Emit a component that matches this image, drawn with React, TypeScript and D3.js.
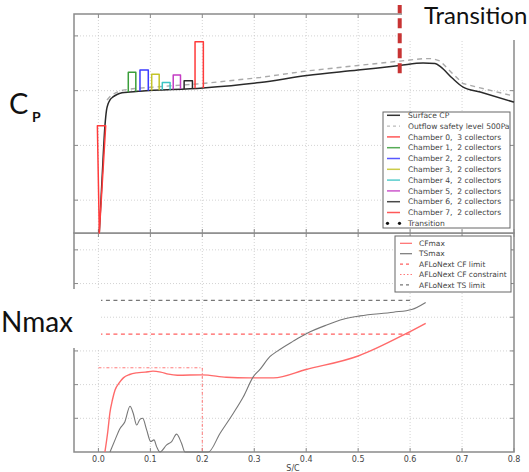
import React from "react";
import * as d3 from "d3";

// ---------- data ----------
const xTicks = [0, 0.1, 0.2, 0.3, 0.4, 0.5, 0.6, 0.7, 0.8];
const xTickLabels = ["0.0", "0.1", "0.2", "0.3", "0.4", "0.5", "0.6", "0.7", "0.8"];
const upperGridY = [0.2, 0.4, 0.6, 0.8];
const lowerGridY = [1, 2, 3, 4, 5, 6];

const surfaceX = [0.0017, 0.0069, 0.0127, 0.0156, 0.0185, 0.0223, 0.0281, 0.0358, 0.0454, 0.0608, 0.08, 0.2013, 0.311, 0.4015, 0.4997, 0.58, 0.625, 0.648, 0.6595, 0.681, 0.702, 0.735, 0.8];
const surfaceCp = [0.082, 0.274, 0.475, 0.529, 0.551, 0.566, 0.577, 0.586, 0.592, 0.595, 0.598, 0.61, 0.63, 0.655, 0.675, 0.692, 0.701, 0.699, 0.686, 0.646, 0.613, 0.595, 0.558];

const outflowX = [0.0165, 0.024, 0.034, 0.0473, 0.0704, 0.2013, 0.311, 0.4015, 0.4997, 0.58, 0.625, 0.644, 0.658, 0.681, 0.702, 0.735, 0.8];
const outflowCp = [0.566, 0.582, 0.593, 0.602, 0.608, 0.626, 0.648, 0.672, 0.692, 0.708, 0.717, 0.717, 0.708, 0.664, 0.626, 0.61, 0.58];

const chamberNames = [
  "Chamber 0,  3 collectors",
  "Chamber 1,  2 collectors",
  "Chamber 2,  2 collectors",
  "Chamber 3,  2 collectors",
  "Chamber 4,  2 collectors",
  "Chamber 5,  2 collectors",
  "Chamber 6,  2 collectors",
  "Chamber 7,  2 collectors",
];
const chamberColors = ["#ff3b3b", "#3a9e3a", "#3b3bff", "#c4c42a", "#3cc4c4", "#c43cc4", "#2a2a2a", "#ff3b3b"];
const chamberStart = [-0.002, 0.0575, 0.08, 0.1026, 0.123, 0.144, 0.165, 0.186];
const chamberEnd = [0.014, 0.072, 0.096, 0.117, 0.138, 0.158, 0.181, 0.202];
const chamberTop = [0.472, 0.667, 0.675, 0.66, 0.63, 0.657, 0.636, 0.779];
const chamberTipX = [0.0017, null, null, null, null, null, null, null];

const transitionX = 0.58;
const transitionSpan = [0.664, 0.913];

const cfX = [0.0125, 0.018, 0.022, 0.027, 0.032, 0.04, 0.048, 0.06, 0.074, 0.09, 0.105, 0.12, 0.135, 0.152, 0.2, 0.246, 0.29, 0.311, 0.337, 0.4, 0.5, 0.593, 0.63];
const cfMax = [0, 0.6, 1.15, 1.55, 1.84, 2.05, 2.2, 2.3, 2.35, 2.37, 2.4, 2.37, 2.31, 2.28, 2.29, 2.22, 2.2, 2.2, 2.2, 2.45, 2.85, 3.52, 3.82];

const tsX = [0.0223, 0.032, 0.0416, 0.051, 0.0608, 0.067, 0.0737, 0.08, 0.0852, 0.093, 0.1006, 0.107, 0.112, 0.1185, 0.1314, 0.141, 0.1505, 0.16, 0.1667, 0.2115, 0.234, 0.2597, 0.279, 0.298, 0.311, 0.33, 0.343, 0.375, 0.401, 0.4395, 0.471, 0.5035, 0.568, 0.603, 0.63];
const tsMax = [0, 0.36, 0.7, 0.9, 1.36, 1.15, 0.8, 0.97, 1.0, 0.65, 0.31, 0.36, 0.16, 0, 0.21, 0.31, 0.53, 0.26, 0, 0, 0.55, 1.15, 1.64, 2.23, 2.45, 2.83, 2.98, 3.29, 3.52, 3.77, 3.94, 4.04, 4.15, 4.23, 4.44];

const cfLimit = 3.5;
const tsLimit = 4.5;
const cfConstraint = 2.5;
const limitRange = [0, 0.6];
const constraintRange = [0, 0.2];

const upperLegend = ["Surface CP", "Outflow safety level 500Pa", ...chamberNames, "Transition"];
const lowerLegend = ["CFmax", "TSmax", "AFLoNext CF limit", "AFLoNext CF constraint", "AFLoNext TS limit"];

// ---------- layout ----------
const W = 529, H = 472;
const L = 74, R = 514;
const UT = 14, UB = 233;
const LT = 233, LB = 452;

const x = d3.scaleLinear().domain([-0.047, 0.8]).range([L, R]);
const yU = d3.scaleLinear().domain([0.08, 0.88]).range([UB, UT]);
const yL = d3.scaleLinear().domain([0, 6.5]).range([LB, LT]);
const cpAt = d3.scaleLinear().domain(surfaceX).range(surfaceCp).clamp(true);

const FRAME = "#8a8a8a";
const GRID = "#c8c8c8";
const TXT = "#444";
const FONT = "DejaVu Sans, sans-serif";
const BIG = "Lato, 'Open Sans', sans-serif";

export default function App() {
  const lineU = d3.line<[number, number]>().x((d) => x(d[0])).y((d) => yU(d[1]));
  const lineL = d3.line<[number, number]>().x((d) => x(d[0])).y((d) => yL(d[1]));
  const smoothL = d3.line<[number, number]>().x((d) => x(d[0])).y((d) => yL(d[1])).curve(d3.curveMonotoneX);
  const smoothU = d3.line<[number, number]>().x((d) => x(d[0])).y((d) => yU(d[1])).curve(d3.curveMonotoneX);

  const surf = surfaceX.map((v, i) => [v, surfaceCp[i]] as [number, number]);
  const outf = outflowX.map((v, i) => [v, outflowCp[i]] as [number, number]);
  const cf = cfX.map((v, i) => [v, cfMax[i]] as [number, number]);
  const ts = tsX.map((v, i) => [v, tsMax[i]] as [number, number]);

  const chamberPath = (i: number) => {
    const x0 = chamberStart[i], x1 = chamberEnd[i], top = chamberTop[i];
    const tip = chamberTipX[i];
    const pts: [number, number][] =
      tip != null
        ? [[x0, top], [x1, top], [tip, 0.08]]
        : [[x0, cpAt(x0)], [x0, top], [x1, top], [x1, cpAt(x1)]];
    return lineU(pts) + (tip != null ? "Z" : "");
  };

  const gridX = xTicks.filter((t) => t < 0.8);

  const ticksFrame = (top: number, bottom: number, ys: number[], yScale: any) => (
    <g stroke={FRAME} strokeWidth={1}>
      {xTicks.map((t, i) => (
        <g key={"tx" + i}>
          <line x1={x(t)} x2={x(t)} y1={bottom} y2={bottom - 4} />
          <line x1={x(t)} x2={x(t)} y1={top} y2={top + 4} />
        </g>
      ))}
      {ys.map((t, i) => (
        <g key={"ty" + i}>
          <line x1={L} x2={L + 4} y1={yScale(t)} y2={yScale(t)} />
          <line x1={R} x2={R - 4} y1={yScale(t)} y2={yScale(t)} />
        </g>
      ))}
    </g>
  );

  return (
    <svg width={W} height={H} style={{ position: "absolute", left: 0, top: 0, background: "#fff" }} fontFamily={FONT}>
      <rect x={0} y={0} width={W} height={H} fill="#fff" />

      {/* ---------- lower panel ---------- */}
      <g stroke={GRID} strokeWidth={0.8} strokeDasharray="1,2">
        {gridX.map((t, i) => (
          <line key={"lgx" + i} x1={x(t)} x2={x(t)} y1={LT} y2={LB} />
        ))}
        {lowerGridY.map((t, i) => (
          <line key={"lgy" + i} x1={L} x2={R} y1={yL(t)} y2={yL(t)} />
        ))}
      </g>
      <rect x={L} y={LT} width={R - L} height={LB - LT} fill="none" stroke={FRAME} strokeWidth={1.5} />
      {ticksFrame(LT, LB, lowerGridY, yL)}

      <path d={lineL([[limitRange[0], tsLimit], [limitRange[1], tsLimit]])!} stroke="#777" strokeWidth={1.2} strokeDasharray="4,3.5" fill="none" />
      <path d={lineL([[limitRange[0], cfLimit], [limitRange[1], cfLimit]])!} stroke="#ff6060" strokeWidth={1.2} strokeDasharray="4,3.5" fill="none" />
      <path
        d={lineL([[constraintRange[0], cfConstraint], [constraintRange[1], cfConstraint], [constraintRange[1], 0]])!}
        stroke="#ff7a7a"
        strokeWidth={1}
        strokeDasharray="3,2,1,2"
        fill="none"
      />
      <path d={smoothL(cf)!} stroke="#ff6a6a" strokeWidth={1.4} fill="none" />
      <path d={smoothL(ts)!} stroke="#777" strokeWidth={1.1} fill="none" />

      {xTicks.map((t, i) => (
        <text key={"xl" + i} x={x(t)} y={462} fontSize={8} fill={TXT} textAnchor="middle">
          {xTickLabels[i]}
        </text>
      ))}
      <text x={293} y={471} fontSize={8} fill={TXT} textAnchor="middle">S/C</text>

      {/* Nmax label */}
      <rect x={0} y={289} width={101} height={59} fill="#fff" />
      <text x={1} y={332} fontSize={28} fontFamily={BIG} fill="#111">Nmax</text>

      {/* lower legend */}
      <g>
        <rect x={395} y={236} width={116} height={56} fill="#fff" stroke="#666" strokeWidth={1} />
        {lowerLegend.map((name, i) => {
          const yy = 243.3 + i * 10.4;
          const styles = [
            { c: "#ff6a6a", d: undefined },
            { c: "#777", d: undefined },
            { c: "#ff6060", d: "3,3" },
            { c: "#ff7a7a", d: "1.5,2" },
            { c: "#777", d: "3,3" },
          ][i];
          return (
            <g key={"ll" + i}>
              <line x1={400} x2={412} y1={yy} y2={yy} stroke={styles.c} strokeWidth={1.2} strokeDasharray={styles.d} />
              <text x={419} y={yy + 2.7} fontSize={7.5} fill={TXT}>{name}</text>
            </g>
          );
        })}
      </g>

      {/* ---------- upper panel ---------- */}
      <rect x={L} y={UT} width={R - L} height={UB - UT} fill="#fff" />
      <g stroke={GRID} strokeWidth={0.8} strokeDasharray="1,2">
        {gridX.map((t, i) => (
          <line key={"ugx" + i} x1={x(t)} x2={x(t)} y1={UT} y2={UB} />
        ))}
        {upperGridY.map((t, i) => (
          <line key={"ugy" + i} x1={L} x2={R} y1={yU(t)} y2={yU(t)} />
        ))}
      </g>
      <rect x={L} y={UT} width={R - L} height={UB - UT} fill="none" stroke={FRAME} strokeWidth={1.5} />
      {ticksFrame(UT, UB, upperGridY, yU)}

      <path d={lineU(outf)!} stroke="#aaa" strokeWidth={1.4} strokeDasharray="5,4" fill="none" />
      <path d={smoothU(surf)!} stroke="#2a2a2a" strokeWidth={1.5} fill="none" />
      {chamberNames.map((_, i) => (
        <path key={"ch" + i} d={chamberPath(i)} stroke={chamberColors[i]} strokeWidth={1.5} fill="none" strokeLinejoin="round" />
      ))}
      <circle cx={x(transitionX)} cy={yU(cpAt(transitionX))} r={1.5} fill="#111" />

      {/* upper legend */}
      <g>
        <rect x={383} y={112} width={127} height={116} fill="#fff" stroke="#666" strokeWidth={1} />
        {upperLegend.map((name, i) => {
          const yy = 115.3 + i * 10.8;
          let mark;
          if (i === 0) mark = <line x1={387} x2={400} y1={yy} y2={yy} stroke="#333" strokeWidth={1.5} />;
          else if (i === 1) mark = <line x1={387} x2={400} y1={yy} y2={yy} stroke="#bbb" strokeWidth={1.2} strokeDasharray="3,3" />;
          else if (i === upperLegend.length - 1)
            mark = (
              <g fill="#111">
                <circle cx={387.5} cy={yy} r={1.6} />
                <circle cx={399.5} cy={yy} r={1.6} />
              </g>
            );
          else mark = <line x1={387} x2={400} y1={yy} y2={yy} stroke={chamberColors[i - 2]} strokeWidth={1.5} opacity={0.85} />;
          return (
            <g key={"ul" + i}>
              {mark}
              <text x={408} y={yy + 2.7} fontSize={7.6} fill={TXT} style={{ whiteSpace: "pre" }}>{name}</text>
            </g>
          );
        })}
      </g>

      {/* Transition label and marker */}
      <rect x={402} y={0} width={127} height={40} fill="#fff" />
      <text x={424} y={24} fontSize={24} fontFamily={BIG} fill="#111">Transition</text>
      <path
        d={lineU([[transitionX, transitionSpan[0]], [transitionX, transitionSpan[1]]])!}
        stroke="#c83434"
        strokeWidth={4}
        strokeDasharray="10,5"
        fill="none"
      />

      {/* Cp label */}
      <text x={9} y={114} fontSize={29} fontFamily={BIG} fill="#111">C</text>
      <text x={32} y={122} fontSize={14} fontFamily={BIG} fontWeight="bold" fill="#111">P</text>
    </svg>
  );
}
